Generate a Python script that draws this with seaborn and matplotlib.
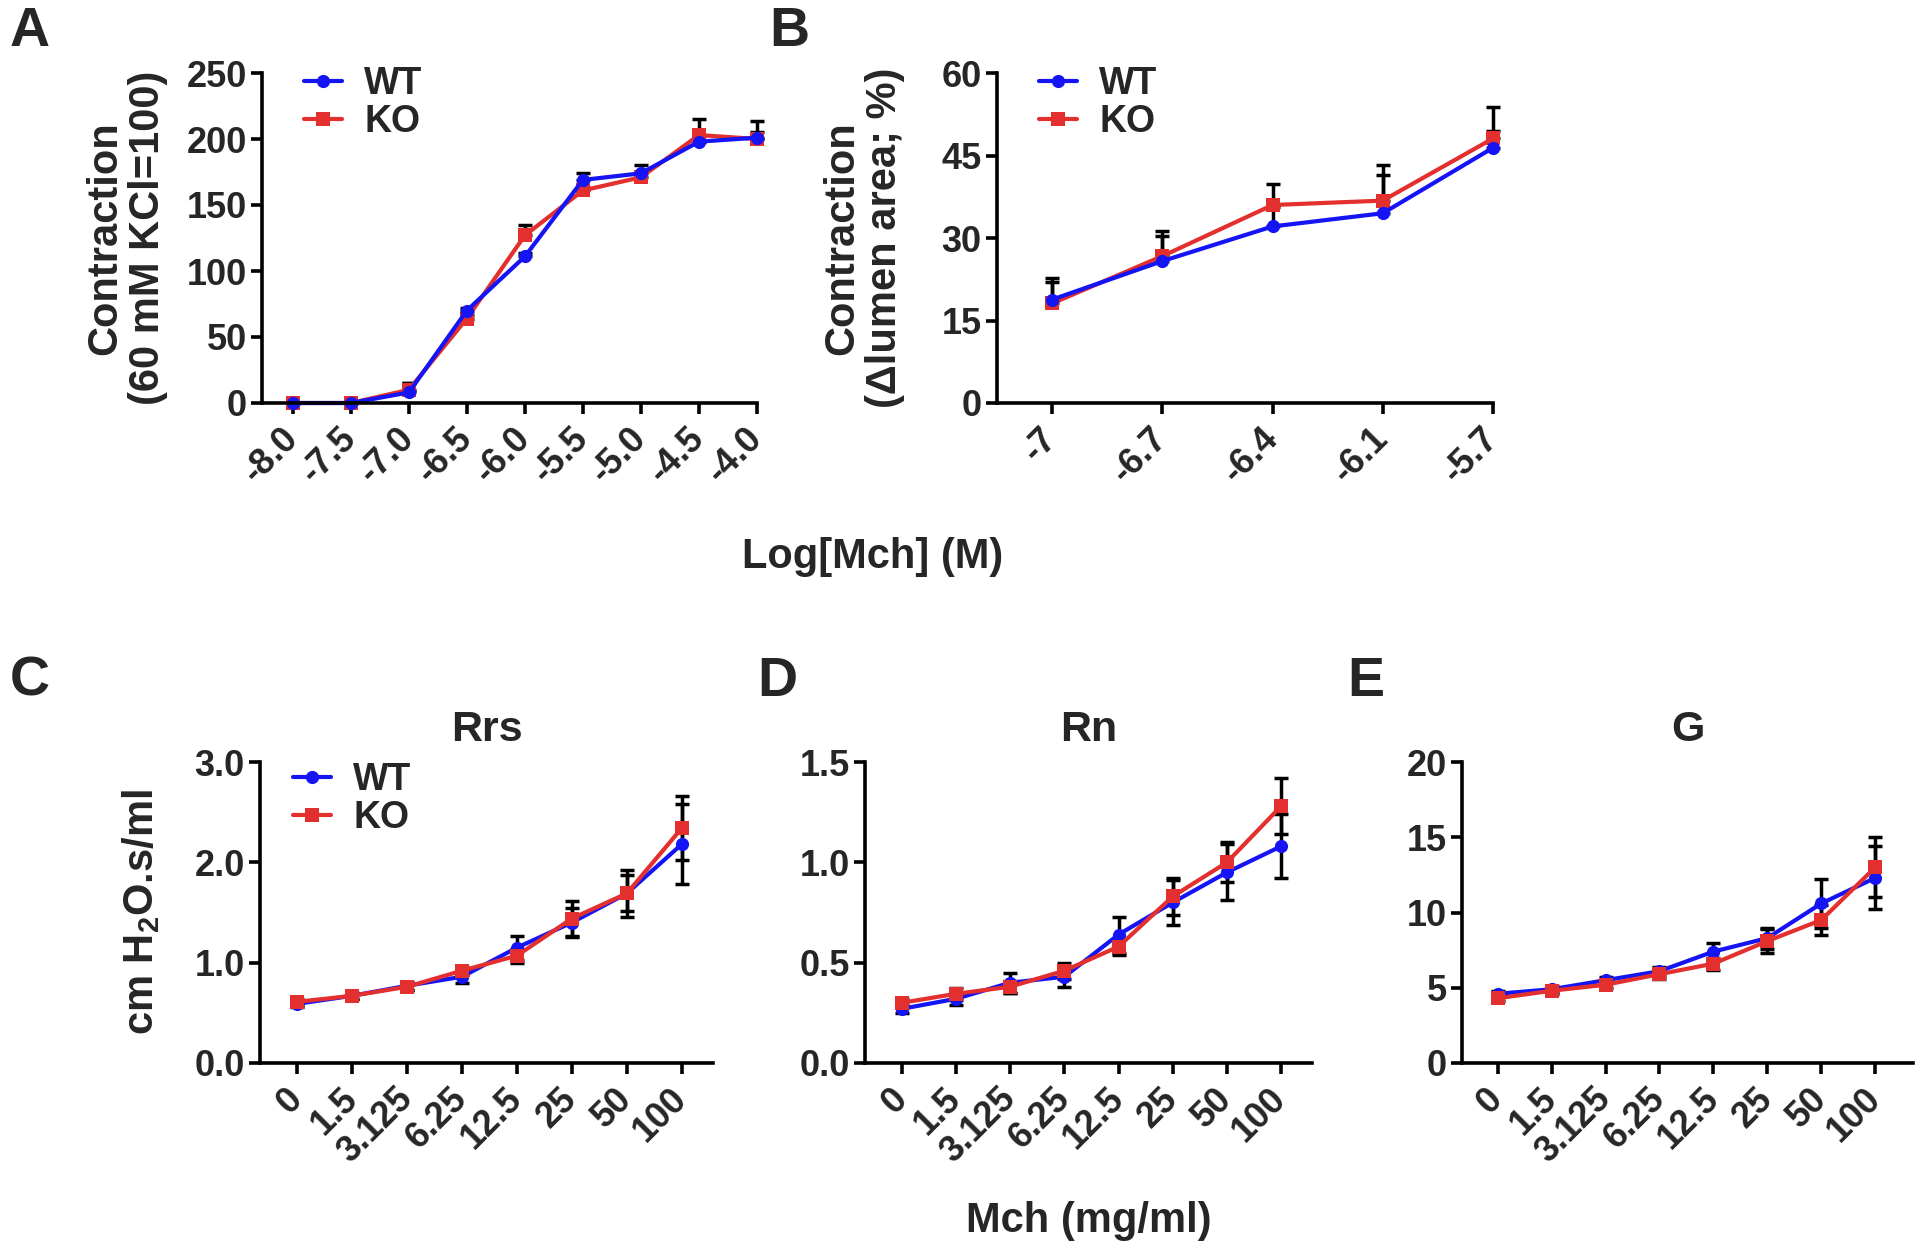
import numpy as np
import pandas as pd
import seaborn as sns
import matplotlib.pyplot as plt
from matplotlib.lines import Line2D

# ---- data ----
# A: contraction (60 mM KCl = 100) vs Log[Mch]
a_doses = ['-8.0', '-7.5', '-7.0', '-6.5', '-6.0', '-5.5', '-5.0', '-4.5', '-4.0']
a_wt = [0, 0, 8, 70, 111, 169, 174, 198, 201]
a_wt_err = [0, 0, 7, 2, 3, 5, 6, 4, 13]
a_ko = [0, 0, 10, 64, 127, 161, 171, 203, 200]
a_ko_err = [0, 0, 5, 3, 8, 3, 4, 12, 5]

# B: contraction (delta lumen area, %)
b_doses = ['-7', '-6.7', '-6.4', '-6.1', '-5.7']
b_wt = [18.8, 25.8, 32.1, 34.5, 46.4]
b_wt_err = [3.2, 4.6, 3.5, 7.0, 3.0]
b_ko = [18.1, 26.7, 36.0, 36.8, 48.1]
b_ko_err = [4.7, 4.6, 3.8, 6.4, 5.7]

# C-E: lung function vs Mch (mg/ml)
mch = ['0', '1.5', '3.125', '6.25', '12.5', '25', '50', '100']
rrs_wt = [0.59, 0.67, 0.77, 0.86, 1.15, 1.40, 1.69, 2.18]
rrs_wt_err = [0.03, 0.03, 0.04, 0.06, 0.12, 0.14, 0.23, 0.40]
rrs_ko = [0.61, 0.67, 0.76, 0.92, 1.07, 1.44, 1.69, 2.34]
rrs_ko_err = [0.03, 0.03, 0.03, 0.04, 0.07, 0.17, 0.18, 0.32]

rn_wt = [0.27, 0.32, 0.40, 0.43, 0.64, 0.80, 0.95, 1.08]
rn_wt_err = [0.02, 0.03, 0.05, 0.05, 0.09, 0.11, 0.14, 0.16]
rn_ko = [0.30, 0.345, 0.38, 0.46, 0.58, 0.83, 1.00, 1.28]
rn_ko_err = [0.02, 0.03, 0.03, 0.04, 0.04, 0.09, 0.10, 0.14]

g_wt = [4.6, 4.9, 5.5, 6.1, 7.4, 8.3, 10.6, 12.3]
g_wt_err = [0.2, 0.2, 0.2, 0.3, 0.6, 0.7, 1.6, 2.1]
g_ko = [4.3, 4.8, 5.2, 5.9, 6.6, 8.1, 9.5, 13.0]
g_ko_err = [0.2, 0.2, 0.2, 0.3, 0.4, 0.8, 1.0, 2.0]

pal = {'WT': '#1414f5', 'KO': '#e3302f'}
mk = {'WT': 'o', 'KO': 's'}
TICK_FS = 26
LAB_FS = 30

sns.set_theme(style='ticks')
plt.rcParams['font.family'] = ['Liberation Sans', 'DejaVu Sans']
plt.rcParams['font.weight'] = 'bold'
plt.rcParams['axes.labelweight'] = 'bold'
plt.rcParams['axes.titleweight'] = 'bold'
plt.rcParams['mathtext.fontset'] = 'custom'
plt.rcParams['mathtext.bf'] = 'Liberation Sans:bold'
plt.rcParams['mathtext.rm'] = 'Liberation Sans:bold'
plt.rcParams['mathtext.default'] = 'bf'

W, H = 1920, 1254
fig = plt.figure(figsize=(19.2, 12.54), dpi=100)


def box(l, r, t, b):
    return [l / W, 1 - b / H, (r - l) / W, (b - t) / H]


def panel(ax, labels, wt, wt_err, ko, ko_err, yticks, ytl, xlim, up_only, front):
    n = len(labels)
    df = pd.DataFrame({'pos': list(range(n)) * 2,
                       'val': wt + ko,
                       'grp': ['WT'] * n + ['KO'] * n})
    order = ['KO', 'WT'] if front == 'WT' else ['WT', 'KO']
    for vals, errs in ((wt, wt_err), (ko, ko_err)):
        yerr = [np.zeros(n), errs] if up_only else errs
        ax.errorbar(range(n), vals, yerr=yerr, fmt='none', ecolor='black',
                    elinewidth=2.5, capsize=5, capthick=2.5, zorder=1.5, clip_on=False)
    sns.lineplot(data=df, x='pos', y='val', hue='grp', style='grp',
                 hue_order=order, style_order=order, palette=pal, markers=mk,
                 dashes=False, lw=3, markersize=9.5, markeredgewidth=0,
                 legend=False, ax=ax)
    for ln in ax.lines:
        ln.set_clip_on(False)
    ax.set_xlim(*xlim)
    ax.set_ylim(yticks[0], yticks[-1])
    ax.set_xticks(range(n))
    ax.set_xticklabels(labels, rotation=45, ha='right', va='center',
                       rotation_mode='anchor', fontsize=TICK_FS, fontweight='bold')
    ax.set_yticks(yticks)
    ax.set_yticklabels(ytl, fontsize=TICK_FS, fontweight='bold')
    ax.set_xlabel('')
    ax.set_ylabel('')
    sns.despine(ax=ax)
    for s in ('left', 'bottom'):
        ax.spines[s].set_linewidth(2.6)
        ax.spines[s].set_color('black')
    ax.tick_params(axis='both', width=2.6, length=8, color='black', pad=3)
    ax.tick_params(axis='x', pad=14)


def add_legend(ax, x, y):
    hs = [Line2D([], [], color=pal[g], marker=mk[g], lw=3, markersize=9.5,
                 markeredgewidth=0) for g in ('WT', 'KO')]
    ax.legend(hs, ['WT', 'KO'], loc='upper left', bbox_to_anchor=(x, y),
              frameon=False, handlelength=1.0, handletextpad=0.6,
              labelspacing=0.05, borderpad=0, borderaxespad=0,
              prop={'weight': 'bold', 'size': 27})


axA = fig.add_axes(box(262, 757, 73, 403))
panel(axA, a_doses, a_wt, a_wt_err, a_ko, a_ko_err,
      [0, 50, 100, 150, 200, 250], ['0', '50', '100', '150', '200', '250'],
      (-0.53, 8), True, 'WT')
add_legend(axA, 0.085, 1.02)
axA.set_ylabel('Contraction\n(60 mM KCl=100)', fontsize=LAB_FS, linespacing=1.1)
axA.yaxis.set_label_coords(-0.19, 0.5)

axB = fig.add_axes(box(997, 1493, 73, 403))
panel(axB, b_doses, b_wt, b_wt_err, b_ko, b_ko_err,
      [0, 15, 30, 45, 60], ['0', '15', '30', '45', '60'],
      (-0.5, 4), True, 'WT')
add_legend(axB, 0.085, 1.02)
axB.set_ylabel('Contraction\n(\u0394lumen area; %)', fontsize=LAB_FS, linespacing=1.1)
axB.yaxis.set_label_coords(-0.185, 0.5)

axC = fig.add_axes(box(260, 713, 762, 1063))
panel(axC, mch, rrs_wt, rrs_wt_err, rrs_ko, rrs_ko_err,
      [0, 1, 2, 3], ['0.0', '1.0', '2.0', '3.0'],
      (-0.68, 7.57), False, 'KO')
add_legend(axC, 0.073, 1.0)
axC.set_ylabel('cm H$_2$O.s/ml', fontsize=LAB_FS)
axC.yaxis.set_label_coords(-0.216, 0.5)
axC.set_title('Rrs', fontsize=31, pad=15)

axD = fig.add_axes(box(865, 1312, 762, 1063))
panel(axD, mch, rn_wt, rn_wt_err, rn_ko, rn_ko_err,
      [0, 0.5, 1.0, 1.5], ['0.0', '0.5', '1.0', '1.5'],
      (-0.68, 7.57), False, 'KO')
axD.set_title('Rn', fontsize=31, pad=15)

axE = fig.add_axes(box(1462, 1913, 762, 1063))
panel(axE, mch, g_wt, g_wt_err, g_ko, g_ko_err,
      [0, 5, 10, 15, 20], ['0', '5', '10', '15', '20'],
      (-0.66, 7.7), False, 'KO')
axE.set_title('G', fontsize=31, pad=15)

fig.text(873 / W, 1 - 557 / H, 'Log[Mch] (M)', fontsize=LAB_FS, fontweight='bold',
         ha='center', va='center')
fig.text(1089 / W, 1 - 1221 / H, 'Mch (mg/ml)', fontsize=LAB_FS, fontweight='bold',
         ha='center', va='center')

for letter, x, y in (('A', 10, 6), ('B', 769, 6), ('C', 10, 656), ('D', 757, 656), ('E', 1347, 656)):
    fig.text(x / W, 1 - y / H, letter, fontsize=40, fontweight='bold', ha='left', va='top')

plt.savefig('out.png', dpi=100)
